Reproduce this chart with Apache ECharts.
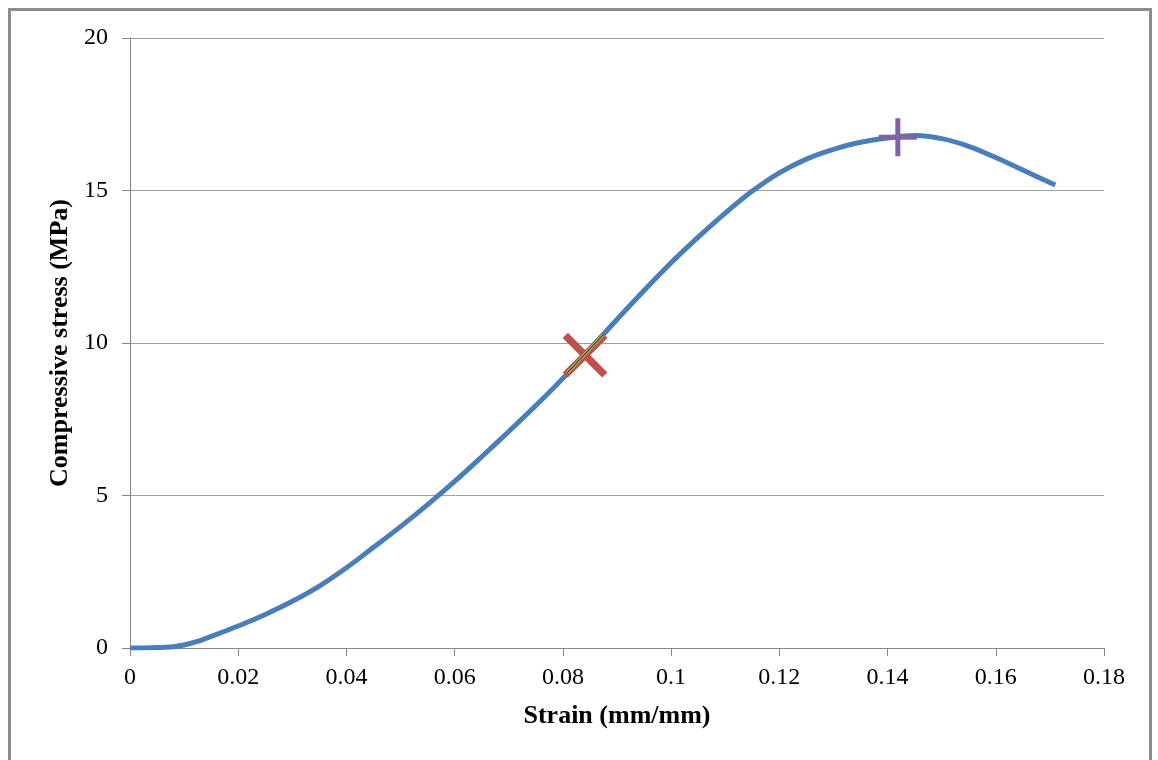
<!DOCTYPE html>
<html>
<head>
<meta charset="utf-8">
<script src="https://cdn.jsdelivr.net/npm/echarts@6/dist/echarts.min.js"></script>
<style>
  html, body { margin: 0; padding: 0; background: #fff; }
  #wrap { position: relative; width: 1158px; height: 760px; overflow: hidden; }
  #frame { position: absolute; left: 8px; top: 8px; width: 1144px; height: 800px;
           border: 3px solid #8c8c8c; box-sizing: border-box; pointer-events: none; }
  #chart { position: absolute; left: 0; top: 0; width: 1158px; height: 760px; }
</style>
</head>
<body>
<div id="wrap">
  <div id="chart"></div>
  <div id="frame"></div>
</div>
<script>
// Stress-strain curve of the compression test
const strain = [0, 0.004, 0.008, 0.010, 0.012, 0.015, 0.020, 0.025, 0.030, 0.035,
                0.040, 0.045, 0.050, 0.055, 0.060, 0.065, 0.070, 0.075, 0.080, 0.085,
                0.090, 0.095, 0.100, 0.105, 0.110, 0.115, 0.120, 0.125, 0.130, 0.135,
                0.140, 0.145, 0.150, 0.155, 0.160, 0.165, 0.171];
const stress = [0, 0.01, 0.04, 0.10, 0.19, 0.38, 0.72, 1.10, 1.53, 2.03,
                2.63, 3.30, 3.98, 4.70, 5.46, 6.27, 7.10, 7.95, 8.84, 9.80,
                10.77, 11.72, 12.63, 13.47, 14.26, 14.98, 15.58, 16.03, 16.35, 16.58,
                16.72, 16.80, 16.70, 16.45, 16.08, 15.67, 15.18];

// Short linear segment fitted around the yield point
const fitStrain = [0.0808, 0.0874];
const fitStress = [9.02, 10.26];

// Marked points: yield (x) and peak (+)
const yieldPoint = [0.0841, 9.6];
const peakPoint = [0.1419, 16.75];

const xTicks = { min: 0, max: 0.18, interval: 0.02 };
const yTicks = { min: 0, max: 20, interval: 5 };

const zip = (a, b) => a.map((v, i) => [v, b[i]]);

const plusPath = 'path://M16.5,0h5v16.5h16.5v5h-16.5v16.5h-5v-16.5h-16.5v-5h16.5z';

const font = '"Liberation Serif", "Times New Roman", serif';

const chart = echarts.init(document.getElementById('chart'), null, { renderer: 'canvas' });
chart.setOption({
  animation: false,
  backgroundColor: '#fff',
  grid: { left: 130, right: 54, top: 38, bottom: 112 },
  xAxis: {
    type: 'value',
    min: xTicks.min, max: xTicks.max, interval: xTicks.interval,
    name: 'Strain (mm/mm)',
    nameLocation: 'middle',
    nameGap: 55,
    nameTextStyle: { fontFamily: font, fontWeight: 'bold', fontSize: 26, color: '#000' },
    axisLine: { show: true, lineStyle: { color: '#868686', width: 1 } },
    axisTick: { show: true, inside: false, length: 8, lineStyle: { color: '#868686' } },
    axisLabel: {
      fontFamily: font, fontSize: 24, color: '#000', margin: 18,
      formatter: v => String(+v.toFixed(2))
    },
    splitLine: { show: false }
  },
  yAxis: {
    type: 'value',
    min: yTicks.min, max: yTicks.max, interval: yTicks.interval,
    name: 'Compressive stress (MPa)',
    nameLocation: 'middle',
    nameGap: 56,
    nameTextStyle: { fontFamily: font, fontWeight: 'bold', fontSize: 26, color: '#000' },
    axisLine: { show: true, lineStyle: { color: '#868686', width: 1 } },
    axisTick: { show: true, inside: false, length: 8, lineStyle: { color: '#868686' } },
    axisLabel: { fontFamily: font, fontSize: 24, color: '#000', margin: 22 },
    splitLine: { show: true, lineStyle: { color: '#a0a0a0', width: 1 } }
  },
  series: [
    {
      type: 'line',
      data: zip(strain, stress),
      smooth: 0.35,
      showSymbol: false,
      lineStyle: { color: '#4A7EBB', width: 5 },
      z: 2
    },
    {
      type: 'scatter',
      data: [yieldPoint],
      symbol: plusPath,
      symbolSize: 56,
      symbolRotate: 45,
      itemStyle: { color: '#C0504D', opacity: 1 },
      z: 3
    },
    {
      type: 'line',
      data: zip(fitStrain, fitStress),
      showSymbol: false,
      lineStyle: { color: '#9BBB59', width: 3 },
      z: 4
    },
    {
      type: 'line',
      data: zip(fitStrain, fitStress),
      showSymbol: false,
      lineStyle: { color: '#1a1a1a', width: 1 },
      z: 5
    },
    {
      type: 'scatter',
      data: [peakPoint],
      symbol: plusPath,
      symbolSize: 38,
      itemStyle: { color: '#8064A2', opacity: 1 },
      z: 6
    }
  ]
});
</script>
</body>
</html>
